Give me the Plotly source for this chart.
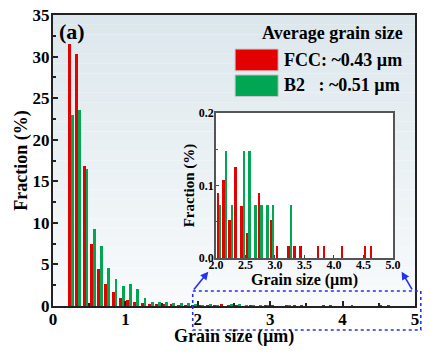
import plotly.graph_objects as go

# ---------------- data (grain size bin centres in µm, fraction in %) ----------------
fcc_size = [0.25, 0.35, 0.45, 0.55, 0.65, 0.75, 0.85, 0.95, 1.05, 1.15, 1.25, 1.35,
            1.45, 1.55, 1.65, 1.75, 1.85, 1.95,
            2.05, 2.15, 2.25, 2.35, 2.45, 2.55, 2.75, 2.95, 3.05, 3.25, 3.35, 3.45,
            3.75, 3.85, 4.15, 4.55, 4.65]
fcc_frac = [31.5, 30.3, 16.8, 7.4, 4.5, 2.6, 1.7, 1.0, 0.75, 0.5, 0.4, 0.3,
            0.2, 0.15, 0.15, 0.1, 0.1, 0.1,
            0.089, 0.108, 0.053, 0.125, 0.072, 0.035, 0.089, 0.053, 0.017, 0.017, 0.017, 0.017,
            0.017, 0.017, 0.017, 0.017, 0.017]

b2_size = [0.25, 0.35, 0.45, 0.55, 0.65, 0.75, 0.85, 0.95, 1.05, 1.15, 1.25, 1.35,
           1.45, 1.55, 1.65, 1.75, 1.85, 1.95,
           2.05, 2.15, 2.25, 2.45, 2.55, 2.65, 2.75, 2.85, 2.95, 3.25]
b2_frac = [23.0, 23.6, 16.5, 9.3, 7.2, 4.6, 3.3, 2.4, 2.6, 2.0, 1.0, 0.5,
           0.45, 0.5, 0.35, 0.35, 0.35, 0.3,
           0.073, 0.148, 0.073, 0.148, 0.148, 0.073, 0.073, 0.073, 0.073, 0.073]

legend_title = "Average grain size"
legend_labels = ["FCC: ~0.43 µm", "B2\u00a0\u00a0\u00a0: ~0.51 µm"]
x_title = "Grain size (µm)"
y_title = "Fraction (%)"
main_xticks = [0, 1, 2, 3, 4, 5]
main_yticks = [0, 5, 10, 15, 20, 25, 30, 35]
inset_xticks = [2.0, 2.5, 3.0, 3.5, 4.0, 4.5, 5.0]
inset_yticks = [0.0, 0.1, 0.2]

RED = "#e30000"
GREEN = "#00a651"
BLUE = "#2233ee"
FONT = "Liberation Serif"

fig = go.Figure()
for sizes, fracs, color, off in [(fcc_size, fcc_frac, RED, -0.04), (b2_size, b2_frac, GREEN, 0.0)]:
    for xa, ya in [("x", "y"), ("x2", "y2")]:
        fig.add_trace(go.Bar(x=sizes, y=fracs, width=0.04, offset=off,
                             marker=dict(color=color, line_width=0),
                             xaxis=xa, yaxis=ya, showlegend=False))

shapes = []
# gradient background of the main plot area
n = 30
top_c = (220, 231, 237)
bot_c = (248, 250, 251)
for i in range(n):
    t = i / (n - 1)
    c = tuple(round(top_c[k] + (bot_c[k] - top_c[k]) * t) for k in range(3))
    shapes.append(dict(type="rect", xref="paper", yref="paper", x0=0, x1=1,
                       y0=1 - (i + 1) / n, y1=1 - i / n, layer="below",
                       fillcolor="rgb(%d,%d,%d)" % c, line_width=0))
# inset white background
ix0, ix1, iy0, iy1 = 0.450, 0.939, 0.165, 0.663
shapes.append(dict(type="rect", xref="paper", yref="paper", x0=ix0, x1=ix1, y0=iy0, y1=iy1,
                   layer="below", fillcolor="white", line_width=0))
# legend swatches
shapes.append(dict(type="rect", xref="paper", yref="paper", x0=0.503, x1=0.622, y0=0.808, y1=0.883,
                   fillcolor=RED, line=dict(color="#c8c8c8", width=1)))
shapes.append(dict(type="rect", xref="paper", yref="paper", x0=0.503, x1=0.622, y0=0.720, y1=0.794,
                   fillcolor=GREEN, line=dict(color="#c8c8c8", width=1)))
# dashed zoom box
shapes.append(dict(type="rect", xref="paper", yref="paper", x0=0.386, x1=1.016, y0=-0.0825, y1=0.0515,
                   line=dict(color=BLUE, width=1.6, dash="dot")))

def txt(s, x, y, size, xanchor="center", angle=0):
    return dict(text="<b>%s</b>" % s, xref="paper", yref="paper", x=x, y=y, xanchor=xanchor,
                yanchor="middle", showarrow=False, textangle=angle,
                font=dict(family=FONT, size=size, color="black"))

annotations = [
    txt("(a)", 0.01, 0.942, 22, "left"),
    txt(legend_title, 0.972, 0.938, 18, "right"),
    txt(legend_labels[0], 0.633, 0.845, 18, "left"),
    txt(legend_labels[1], 0.633, 0.758, 18, "left"),
    txt(x_title, 0.5, -0.106, 18),
    txt(y_title, -0.088, 0.5, 18, angle=-90),
    txt(x_title, (ix0 + ix1) / 2, 0.090, 16),
    txt(y_title, 0.378, (iy0 + iy1) / 2, 15, angle=-90),
    dict(text="", xref="paper", yref="paper", x=0.429, y=0.118, ax=-15.6, ay=19.3,
         showarrow=True, arrowhead=2, arrowsize=1, arrowwidth=1.6, arrowcolor=BLUE),
    dict(text="", xref="paper", yref="paper", x=0.963, y=0.118, ax=11.3, ay=19.3,
         showarrow=True, arrowhead=2, arrowsize=1, arrowwidth=1.6, arrowcolor=BLUE),
]

axis_common = dict(showgrid=False, zeroline=False, showline=True, mirror=True,
                   ticks="inside", automargin=False)

fig.update_layout(
    width=431, height=356,
    margin=dict(l=53, r=16, t=15, b=50),
    paper_bgcolor="white", plot_bgcolor="rgba(0,0,0,0)",
    barmode="overlay", bargap=0,
    font=dict(family=FONT, color="black"),
    shapes=shapes, annotations=annotations,
    xaxis=dict(domain=[0, 1], range=[0, 5], tickvals=main_xticks,
               ticklen=5, tickwidth=1.5, tickcolor="#222",
               minor=dict(ticks="inside", ticklen=3, dtick=0.5, tickcolor="#222"),
               linecolor="#222", linewidth=2,
               tickfont=dict(family=FONT, size=17, weight="bold"),
               ticklabelstandoff=-3,
               **axis_common),
    yaxis=dict(domain=[0, 1], range=[0, 35], tickvals=main_yticks,
               ticklen=5, tickwidth=1.5, tickcolor="#222",
               minor=dict(ticks="inside", ticklen=3, dtick=2.5, tickcolor="#222"),
               linecolor="#222", linewidth=2,
               tickfont=dict(family=FONT, size=17, weight="bold"),
               ticklabelstandoff=-2,
               **axis_common),
    xaxis2=dict(domain=[ix0, ix1], anchor="y2", range=[2, 5], tickvals=inset_xticks,
                tickformat=".1f", ticklen=3, tickcolor="#444",
                linecolor="#555", linewidth=1.5,
                tickfont=dict(family=FONT, size=12, weight="bold"),
                ticklabelstandoff=-5,
                **axis_common),
    yaxis2=dict(domain=[iy0, iy1], anchor="x2", range=[0, 0.2], tickvals=inset_yticks,
                tickformat=".1f", ticklen=3, tickcolor="#444",
                minor=dict(ticks="inside", ticklen=2, dtick=0.05, tickcolor="#444"),
                linecolor="#555", linewidth=1.5,
                tickfont=dict(family=FONT, size=12, weight="bold"),
                ticklabelstandoff=-2,
                **axis_common),
)

# remove the browser's default 8px body margin so the figure sits at the page origin
fig.write_html("out.html", config={"displayModeBar": False},
               post_script="document.body.style.margin='0px';")
